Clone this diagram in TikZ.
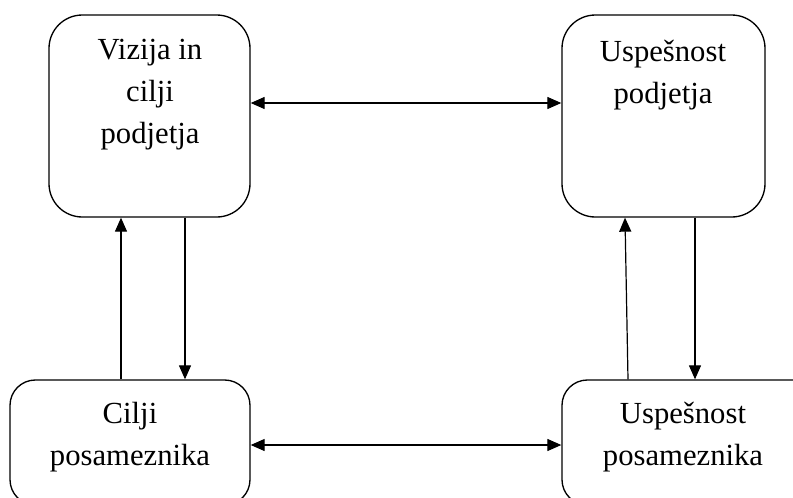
\documentclass[tikz,border=0pt]{standalone}
\usepackage{fontspec}
\setmainfont{Liberation Serif}
\usetikzlibrary{arrows.meta}

\tikzset{every picture/.style={line width=0.75pt}}
\tikzset{
  box/.style={draw, line width=1pt, rounded corners=25pt, inner sep=0pt},
  txt/.style={align=center, inner sep=0.75pt, font=\fontsize{23}{31.5}\selectfont},
  arr/.style={-{Triangle[length=10.5pt,width=9pt]}, line width=0.9pt},
  darr/.style={{Triangle[length=10.5pt,width=9pt]}-{Triangle[length=10.5pt,width=9pt]}, line width=0.9pt}
}

\begin{document}
\begin{tikzpicture}[x=0.75pt,y=0.75pt,yscale=-1,xscale=1]
\useasboundingbox (0,0) rectangle (793,497);
\clip (0,0) rectangle (793,497);

%Rounded Rect
\node[box, minimum width=150.75pt, minimum height=151.5pt] (vizija) at (149.5,116) {};
%Rounded Rect
\node[box, minimum width=152.25pt, minimum height=151.5pt] (uspPodj) at (663.5,116) {};
%Rounded Rect
\node[box, rounded corners=19pt, minimum width=180pt, minimum height=93.75pt] (ciljiPos) at (130,442.5) {};
%Rounded Rect
\node[box, rounded corners=19pt, minimum width=192pt, minimum height=93.75pt] (uspPos) at (690,442.5) {};

% guide coordinates
\coordinate (rowTop) at (0,103);
\coordinate (rowBot) at (0,445);
\coordinate (colA) at (121,0);
\coordinate (colB) at (185,0);
\coordinate (colCa) at (628,0);
\coordinate (colCb) at (625,0);
\coordinate (colD) at (695,0);

%Straight Lines
\draw[darr] (vizija.east |- rowTop) -- (uspPodj.west |- rowTop);
\draw[darr] (ciljiPos.east |- rowBot) -- (uspPos.west |- rowBot);
\draw[arr] (ciljiPos.north -| colA) -- (vizija.south -| colA);
\draw[arr] (vizija.south -| colB) -- (ciljiPos.north -| colB);
\draw[arr] (uspPos.north -| colCa) -- (uspPodj.south -| colCb);
\draw[arr] (uspPodj.south -| colD) -- (uspPos.north -| colD);

% Text Node
\node[txt] (vizijaT) at (150,95) {Vizija in\\cilji\\podjetja};
% Text Node
\node[txt] (uspPodjT) at (663,75) {Uspešnost\\podjetja};
% Text Node
\node[txt] (ciljiPosT) at (130,437) {Cilji\\posameznika};
% Text Node
\node[txt] (uspPosT) at (683,437) {Uspešnost\\posameznika};

\end{tikzpicture}
\end{document}
